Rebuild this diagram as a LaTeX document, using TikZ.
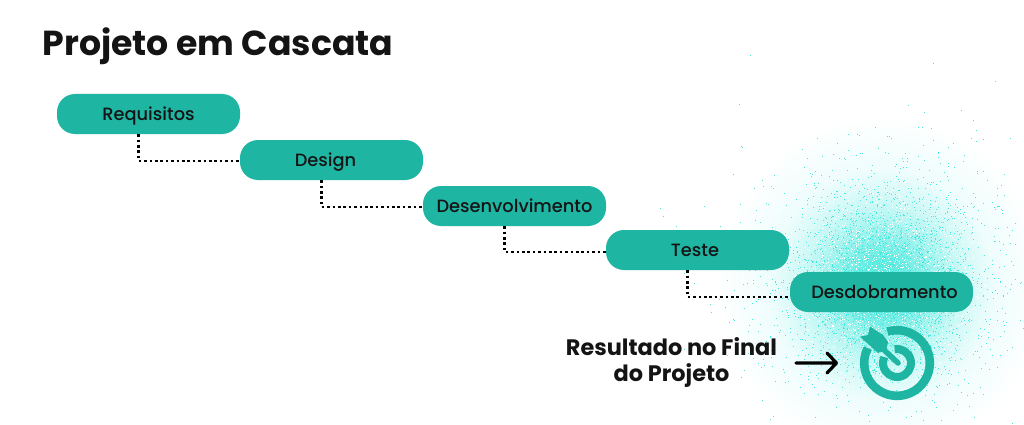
\documentclass[tikz,border=0pt]{standalone}
\usepackage{fontspec}
\setmainfont{Poppins}
\newfontfamily\medfont{Poppins Medium}
\usetikzlibrary{calc}
\definecolor{teal}{HTML}{1FB5A3}
\definecolor{glow}{HTML}{45E8DD}
\definecolor{ink}{HTML}{141414}
\tikzset{
  stage/.style={draw=none,fill=teal,rounded corners=18pt,minimum width=183pt,minimum height=40pt,inner sep=0pt,text=ink,text height=16pt,text depth=3.4pt,font=\medfont\fontsize{17.8}{20}\selectfont},
  link/.style={line width=2.7pt,dash pattern=on 2.6pt off 2.8pt,draw=black},
  caption/.style={font=\fontsize{22.4}{26}\bfseries\selectfont,text=ink,align=center}
}
\pgfdeclareradialshading{halo}{\pgfpointorigin}{
  color(0bp)=(glow!95!white);
  color(4bp)=(glow!80!white);
  color(8bp)=(glow!52!white);
  color(12bp)=(glow!28!white);
  color(17bp)=(glow!9!white);
  color(25bp)=(white);
  color(50bp)=(white)
}
\makeatletter
\newcommand\speck[2]{\pgfsys@invoke{#1 #2 1 1 re f}}
\makeatother
\newcommand\spray[5]{%
  \foreach \i in {1,...,#1}{%
    \pgfmathsetmacro{\rr}{sqrt(-2*ln(rnd+0.0001))}%
    \pgfmathsetmacro{\aa}{360*rnd}%
    \pgfmathsetmacro{\px}{#2+#4*\rr*cos(\aa)}%
    \pgfmathsetmacro{\py}{-(#3+#5*\rr*sin(\aa))}%
    \speck{\px}{\py}%
  }%
}
\pgfmathsetseed{4242}
\begin{document}
\begin{tikzpicture}[x=1pt,y=-1pt]
\useasboundingbox (0,0) rectangle (1024,425);
\fill[white] (0,0) rectangle (1024,425);
\begin{scope}
\clip (0,0) rectangle (1024,425);
\shade[shading=halo] (882,285) ellipse [x radius=165pt,y radius=170pt];
\pgfsetfillcolor{white}
\spray{2600}{882}{285}{52}{54}
\pgfsetfillcolor{glow}
\spray{1500}{880}{280}{68}{62}
\spray{1500}{882}{285}{42}{46}
\end{scope}
\node[font=\fontsize{34.7}{40}\bfseries\selectfont,text=ink,anchor=west] (title) at (39,46) {Projeto em Cascata};
\node[stage] (a) at (148.5,114) {Requisitos};
\node[stage] (b) at (331.5,160) {Design\hspace*{12pt}};
\node[stage] (c) at (514.5,206) {Desenvolvimento};
\node[stage] (d) at (697.5,250) {Teste\hspace*{5pt}};
\node[stage] (e) at (881.5,292) {\hspace*{6pt}Desdobramento};
\draw[link] ([xshift=-10pt]a.south) |- ([yshift=-1pt]b.west);
\draw[link] ([xshift=-10pt]b.south) |- ([yshift=-1pt]c.west);
\draw[link] ([xshift=-10pt]c.south) |- ([yshift=-2pt]d.west);
\draw[link] ([xshift=-10pt]d.south) |- ([yshift=-5pt]e.west);
\node[caption] (r) at (671.5,362.5) {Resultado no Final\\do Projeto};
\coordinate (t) at (897,363);
\coordinate (as) at (796,363);
\draw[line width=3.2pt,line cap=round,line join=round,black] (as) -- ($(t)+(-60.5,0)$) ($(t)+(-70,-10)$) -- ($(t)+(-60.5,0)$) -- ($(t)+(-70,10)$);
\draw[teal,line width=8.6pt] ($(t)+(-107:32.8)$) arc[start angle=-107,end angle=207,radius=32.8];
\draw[teal,line width=8pt] ($(t)+(-100:14)$) arc[start angle=-100,end angle=205,radius=14];
\draw[teal,line width=5.5pt,line cap=round] ($(t)+(1,0)$) -- ($(t)+(-15,-15)$);
\fill[teal] (870,326.5) -- (883,335) -- (888,341.7) -- (886.7,350) -- (878,353) -- (860,336.7) -- (868,335) -- cycle;
\end{tikzpicture}
\end{document}
